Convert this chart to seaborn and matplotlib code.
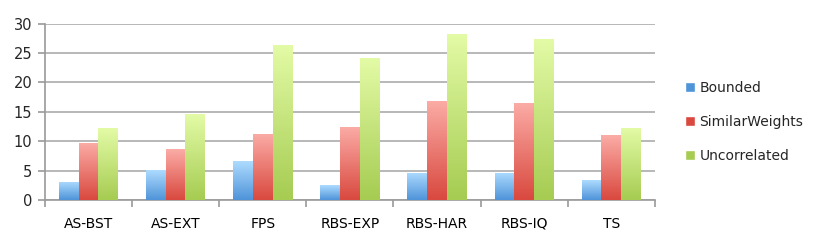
import numpy as np
import pandas as pd
import matplotlib
matplotlib.use("Agg")
import matplotlib.pyplot as plt
import matplotlib.patches as mpatches
from matplotlib.colors import LinearSegmentedColormap
import seaborn as sns

categories = ["AS-BST", "AS-EXT", "FPS", "RBS-EXP", "RBS-HAR", "RBS-IQ", "TS"]
series = ["Bounded", "SimilarWeights", "Uncorrelated"]
bounded = [3.1, 5.1, 6.6, 2.5, 4.6, 4.6, 3.4]
similar = [9.7, 8.6, 11.3, 12.5, 16.9, 16.5, 11.0]
uncorrelated = [12.2, 14.6, 26.4, 24.2, 28.3, 27.4, 12.3]

# top / bottom colours of each gradient
grad = {
    "Bounded": ("#addbff", "#4f94d9"),
    "SimilarWeights": ("#fbaca6", "#d9493f"),
    "Uncorrelated": ("#e3fba6", "#a6cc52"),
}

df = pd.DataFrame({
    "cat": categories * 3,
    "series": [s for s in series for _ in categories],
    "value": bounded + similar + uncorrelated,
})

sns.set_theme(style="white")
plt.rcParams["font.family"] = ["DejaVu Sans"]

fig = plt.figure(figsize=(8.3, 2.46), dpi=100)
ax = fig.add_axes([0.054, 0.187, 0.735, 0.717])

palette = {s: grad[s][1] for s in series}
sns.barplot(data=df, x="cat", y="value", hue="series", hue_order=series,
            order=categories, palette=palette, width=0.68, saturation=1,
            ax=ax, legend=False, zorder=3)

# gradient fill on every bar
for container, s in zip(ax.containers, series):
    cmap = LinearSegmentedColormap.from_list(s, [grad[s][1], grad[s][0]])
    for bar in container:
        x0, y0 = bar.get_x(), bar.get_y()
        w, h = bar.get_width(), bar.get_height()
        g = np.linspace(0, 1, 100).reshape(-1, 1)
        im = ax.imshow(g, cmap=cmap, origin="lower", aspect="auto",
                       extent=[x0, x0 + w, y0, y0 + h], zorder=3.5)
        im.set_clip_path(bar)
        bar.set_edgecolor("none")

ax.set_xlim(-0.5, len(categories) - 0.5)
ax.set_ylim(0, 30)
ax.set_yticks(range(0, 31, 5))
ax.yaxis.grid(True, color="#ababab", linewidth=1.2, zorder=0)
ax.set_axisbelow(True)
ax.set_xlabel("")
ax.set_ylabel("")

for side in ["top", "right"]:
    ax.spines[side].set_visible(False)
for side in ["left", "bottom"]:
    ax.spines[side].set_color("#9a9a9a")
    ax.spines[side].set_linewidth(1.2)

ax.set_xticks(range(len(categories)))
ax.set_xticklabels(categories)
ax.set_xticks(np.arange(-0.5, len(categories), 1), minor=True)
ax.tick_params(axis="x", which="major", length=0, pad=12, labelsize=10,
               colors="black")
ax.tick_params(axis="x", which="minor", length=5, width=1.2,
               color="#9a9a9a", bottom=True)
ax.tick_params(axis="y", length=5, width=1.2, color="#9a9a9a", left=True,
               labelsize=10.5, pad=4)

handles = [mpatches.Patch(facecolor=grad[s][1], label=s) for s in series]
fig.legend(handles=handles, loc="center left", bbox_to_anchor=(0.81, 0.505),
           frameon=False, fontsize=10, handlelength=0.7, handleheight=0.7,
           handletextpad=0.35, labelspacing=1.45)

fig.savefig("out.png", dpi=100)
